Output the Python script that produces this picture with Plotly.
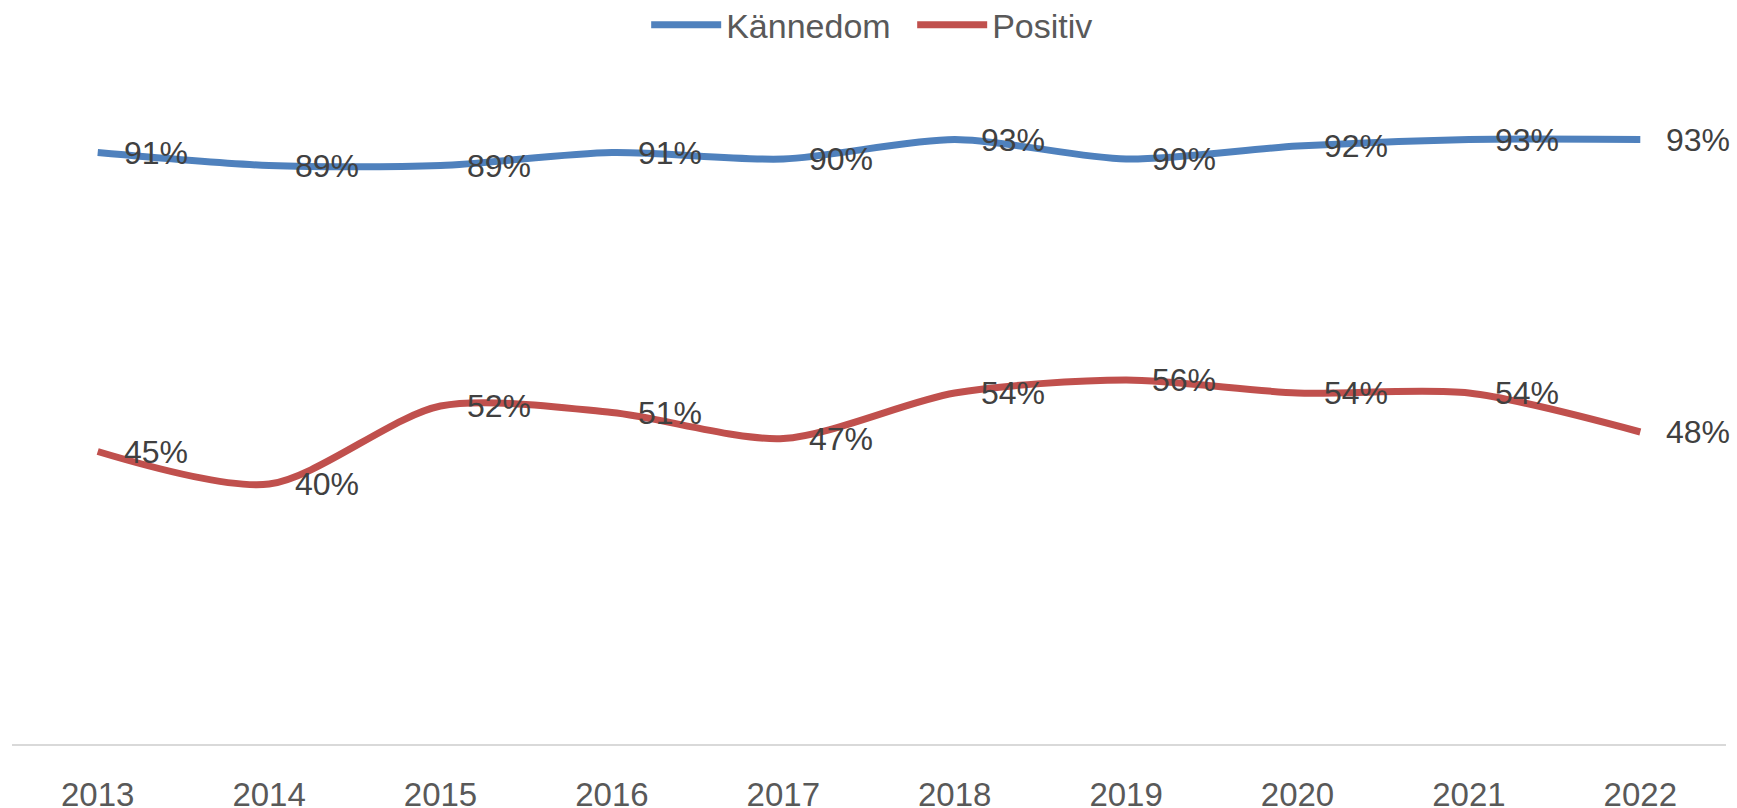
import plotly.graph_objects as go

years = ["2013", "2014", "2015", "2016", "2017", "2018", "2019", "2020", "2021", "2022"]
kannedom = [91, 89, 89, 91, 90, 93, 90, 92, 93, 93]
positiv = [45, 40, 52, 51, 47, 54, 56, 54, 54, 48]

series = [("Kännedom", kannedom, "#4F81BD"), ("Positiv", positiv, "#C0504D")]
FONT = "Liberation Sans"

fig = go.Figure()
for name, vals, col in series:
    fig.add_trace(go.Scatter(x=years, y=vals, name=name, mode="lines",
                             line=dict(color=col, width=7, shape="spline", smoothing=0.8),
                             hoverinfo="x+y"))
    # data labels to the right of each point (category index as x)
    for i, v in enumerate(vals):
        fig.add_annotation(x=i, y=v, text=f"{v}%", showarrow=False,
                           xanchor="left", yanchor="middle", xshift=24,
                           font=dict(family=FONT, size=32, color="#404040"))

fig.update_xaxes(type="category", range=[-0.5, 9.5], showgrid=False,
                 showline=True, linecolor="#D9D9D9", linewidth=2,
                 ticks="", ticklabelstandoff=20, automargin=False,
                 tickfont=dict(family=FONT, size=33, color="#595959"))
fig.update_yaxes(range=[0, 100], visible=False, showgrid=False, zeroline=False)

fig.update_layout(width=1737, height=808, plot_bgcolor="white", paper_bgcolor="white",
                  margin=dict(l=12, r=11, t=94, b=64, autoexpand=False),
                  legend=dict(orientation="h", x=0.370, xanchor="left",
                              y=0.969, yref="container", yanchor="middle",
                              itemwidth=70, entrywidth=181,
                              font=dict(family=FONT, size=34, color="#595959")),
                  showlegend=True)

# drop the default body margin so the figure sits at the page corner
fig.write_html("out.html", config={"displayModeBar": False},
               post_script="document.body.style.margin='0';")
